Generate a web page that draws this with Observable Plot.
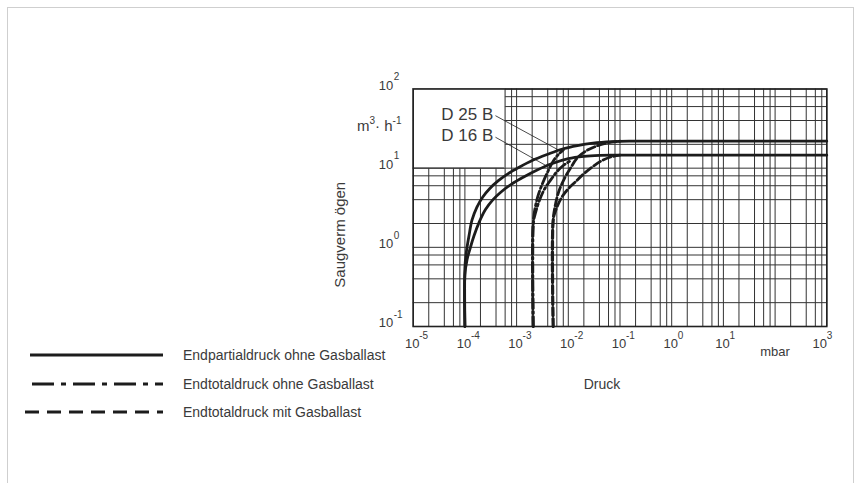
<!DOCTYPE html>
<html><head><meta charset="utf-8">
<script src="https://cdn.jsdelivr.net/npm/d3@7"></script>
<script src="https://cdn.jsdelivr.net/npm/@observablehq/plot@0.6"></script>
<style>
body{margin:0;background:#fff;}
#wrap{position:relative;width:861px;height:483px;overflow:hidden;font-family:"Liberation Sans",Arial,sans-serif;color:#3a3a3a;}
#frame{position:absolute;left:7px;top:7px;width:845px;height:500px;border:1px solid #cfcfcf;}
#chart{position:absolute;left:0;top:0;}
.lbl{position:absolute;white-space:nowrap;}
.lbl sup{font-size:10px;vertical-align:0;position:relative;top:-7px;}
.lsw{position:absolute;left:0;}
.ltx{position:absolute;left:183px;font-size:14px;white-space:nowrap;line-height:18px;color:#3a3a3a;}
</style></head><body>
<div id="wrap"><div id="frame"></div><div id="chart"></div>
<div class="lbl" style="left:357px;top:117px;font-size:15px;">m<sup>3</sup>· h<sup>-1</sup></div>
<div id="legend"></div></div>
<script>
// Pressure (mbar) / pumping speed (m³/h) pairs
const d25Partial = [[1.0e-4,0.1],[1.0e-4,0.55],[1.05e-4,0.8],[1.1e-4,1.0],[1.2e-4,1.4],[1.37e-4,2.2],[1.7e-4,3.2],[2.2e-4,4.3],[3e-4,5.5],[4.5e-4,7.0],[7e-4,8.6],[1.1e-3,10.2],[2e-3,12.5],[4e-3,15.0],[8e-3,17.6],[1.5e-2,19.3],[3e-2,20.7],[7e-2,21.6],[1.5e-1,21.9],[1e3,21.9]];
const d16Partial = [[1.0e-4,0.1],[1.0e-4,0.45],[1.1e-4,0.7],[1.28e-4,1.0],[1.5e-4,1.4],[1.9e-4,2.1],[2.5e-4,3.0],[3.5e-4,4.0],[5e-4,5.0],[8e-4,6.3],[1.4e-3,7.8],[2.5e-3,9.5],[4.6e-3,11.3],[1e-2,13.2],[2e-2,14.1],[4e-2,14.5],[8e-2,14.6],[1e3,14.6]];
const d25TotalOhne = [[2.1e-3,0.1],[2.1e-3,2.0],[2.25e-3,3.0],[2.6e-3,4.5],[3.2e-3,6.5],[4e-3,9.0],[5.2e-3,12.5],[6.5e-3,15.0],[8e-3,17.0]];
const d16TotalOhne = [[2.1e-3,0.1],[2.1e-3,2.0],[2.35e-3,2.8],[2.8e-3,4.0],[3.5e-3,5.5],[4.5e-3,7.0],[6e-3,9.0],[8e-3,10.8],[1.1e-2,12.4]];
const d25TotalMit = [[5.1e-3,0.1],[5.1e-3,2.2],[5.5e-3,3.2],[6.5e-3,5.0],[8.5e-3,7.5],[1.1e-2,10],[1.5e-2,13.5],[2.2e-2,16.5],[3.5e-2,19],[6e-2,21],[1e-1,21.9]];
const d16TotalMit = [[5.1e-3,0.1],[5.1e-3,2.2],[5.8e-3,3.0],[7.5e-3,4.3],[1.0e-2,5.5],[1.4e-2,6.8],[2e-2,8.5],[3e-2,10.5],[4.5e-2,12.5],[7e-2,14.0],[1e-1,14.6]];

const xTicks = [1e-5,1e-4,1e-3,1e-2,1e-1,1e0,1e1];
const xTickExps = ["-5","-4","-3","-2","-1","0","1"];
const xLastTick = [1e3]; const xLastExp = ["3"];
const yTicks = [1e-1,1e0,1e1,1e2];
const yTickExps = ["-1","0","1","2"];
const gridMult = [1,2,4,6,8];
const pumpLabels = ["D 25 B","D 16 B"];
const legendLabels = ["Endpartialdruck ohne Gasballast","Endtotaldruck ohne Gasballast","Endtotaldruck mit Gasballast"];

const gridX = []; for (let e=-5;e<3;e++) for (const m of gridMult) gridX.push(m*10**e); gridX.push(1e3);
const gridY = []; for (let e=-1;e<2;e++) for (const m of gridMult) gridY.push(m*10**e); gridY.push(100);

const F = "Liberation Sans, Arial, sans-serif";
const ink = "#1c1c1c", txt = "#3a3a3a";
const P = d=>d[0], S = d=>d[1];
const lineOpts = (dash)=>({x:P,y:S,curve:"catmull-rom",stroke:ink,strokeWidth:2.8,strokeDasharray:dash});

const chart = Plot.plot({
  width:861, height:483,
  marginLeft:412.7, marginRight:34.7, marginTop:88.5, marginBottom:157,
  x:{type:"log",domain:[1e-5,1e3],axis:null},
  y:{type:"log",domain:[0.1,100],axis:null},
  style:{fontFamily:F,background:"transparent",overflow:"visible"},
  marks:[
    Plot.ruleX(gridX,{stroke:"#333",strokeWidth:1}),
    Plot.ruleY(gridY,{stroke:"#333",strokeWidth:1}),
    Plot.rect([{x1:1e-5,x2:6e-4,y1:10,y2:100}],{x1:"x1",x2:"x2",y1:"y1",y2:"y2",fill:"white",stroke:"#999",strokeWidth:1}),
    Plot.ruleY([10],{x1:1e-5,x2:6e-4,stroke:"#333",strokeWidth:1}),
    Plot.frame({stroke:"#222",strokeWidth:1.6}),
    Plot.line(d25Partial,lineOpts(null)),
    Plot.line(d16Partial,lineOpts(null)),
    Plot.line(d25TotalOhne,lineOpts("10,3,2,3")),
    Plot.line(d16TotalOhne,lineOpts("10,3,2,3")),
    Plot.line(d25TotalMit,lineOpts("8,3")),
    Plot.line(d16TotalMit,lineOpts("8,3")),
    Plot.link([{x1:3.9e-4,y1:46,x2:6.2e-3,y2:17.2},{x1:3.9e-4,y1:24.6,x2:3.6e-3,y2:10.9}],{x1:"x1",y1:"y1",x2:"x2",y2:"y2",stroke:ink,strokeWidth:0.8}),
    Plot.text([{x:3.5e-5,y:47.6,t:pumpLabels[0]},{x:3.5e-5,y:25.5,t:pumpLabels[1]}],{x:"x",y:"y",text:"t",textAnchor:"start",lineAnchor:"middle",fontSize:17,fill:txt,fontFamily:F}),
    // x tick labels
    Plot.text(xTicks,{x:d=>d,text:()=>"10",frameAnchor:"bottom",dy:17,dx:-1,lineAnchor:"middle",textAnchor:"middle",fontSize:13,fill:txt,fontFamily:F}),
    Plot.text(xTicks,{x:d=>d,text:(d,i)=>xTickExps[i],frameAnchor:"bottom",dy:9,dx:6,lineAnchor:"middle",textAnchor:"start",fontSize:10,fill:txt,fontFamily:F}),
    Plot.text(xLastTick,{x:d=>d,text:()=>"10",frameAnchor:"bottom",dy:17,dx:-7,lineAnchor:"middle",textAnchor:"middle",fontSize:13,fill:txt,fontFamily:F}),
    Plot.text(xLastTick,{x:d=>d,text:(d,i)=>xLastExp[i],frameAnchor:"bottom",dy:9,dx:0,lineAnchor:"middle",textAnchor:"start",fontSize:10,fill:txt,fontFamily:F}),
    Plot.text([1e2],{x:d=>d,text:()=>"mbar",frameAnchor:"bottom",dy:29,lineAnchor:"bottom",textAnchor:"middle",fontSize:13,fill:txt,fontFamily:F}),
    // y tick labels
    Plot.text(yTicks,{y:d=>d,text:()=>"10",frameAnchor:"left",dx:-20,dy:-3.5,lineAnchor:"middle",textAnchor:"end",fontSize:13,fill:txt,fontFamily:F}),
    Plot.text(yTicks,{y:d=>d,text:(d,i)=>yTickExps[i],frameAnchor:"left",dx:-19.5,dy:-12,lineAnchor:"middle",textAnchor:"start",fontSize:10,fill:txt,fontFamily:F}),
    // axis titles
    Plot.text(["Saugverm ögen"],{text:d=>d,frameAnchor:"left",dx:-73,dy:27,rotate:-90,lineAnchor:"middle",textAnchor:"middle",fontSize:15,fill:txt,fontFamily:F}),
    Plot.text(["Druck"],{text:d=>d,frameAnchor:"bottom",dx:-18,dy:58,lineAnchor:"middle",textAnchor:"middle",fontSize:14,fill:txt,fontFamily:F})
  ]
});
document.getElementById("chart").appendChild(chart);

// legend
const rows = [{y:355,x1:30,dash:null},{y:384,x1:32,dash:"22,7,5,7"},{y:412,x1:25,dash:"14,8"}];
const leg = document.getElementById("legend");
rows.forEach((r,i)=>{
  const sw = document.createElementNS("http://www.w3.org/2000/svg","svg");
  sw.setAttribute("width","175"); sw.setAttribute("height","10");
  sw.setAttribute("class","lsw"); sw.style.top=(r.y-5)+"px";
  sw.innerHTML = `<line x1="${r.x1}" x2="163" y1="5" y2="5" stroke="${ink}" stroke-width="3" ${r.dash?`stroke-dasharray="${r.dash}"`:""}/>`;
  leg.appendChild(sw);
  const t = document.createElement("div");
  t.className="ltx"; t.style.top=(r.y-9)+"px"; t.textContent=legendLabels[i];
  leg.appendChild(t);
});
</script></body></html>
